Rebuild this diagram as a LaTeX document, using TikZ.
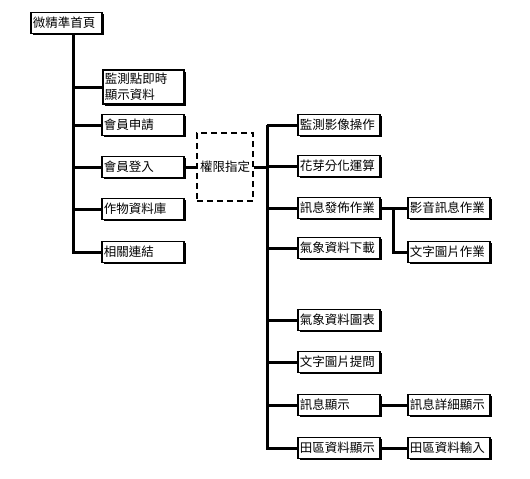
\documentclass[tikz,border=0pt]{standalone}
\usepackage{fontspec}
\setmainfont{Noto Sans CJK TC}
\usepackage{tikz}
\usetikzlibrary{shadows}

\begin{document}
\begin{tikzpicture}[x = 1pt, y = -1pt,
                    line width = 3pt,
                    box/.style = {draw, fill = white, line width = 1.8pt, anchor = west,
                                  drop shadow = {shadow xshift = 1.6pt, shadow yshift = -1.6pt,
                                                 opacity = 1, fill = black},
                                  inner sep = 2pt, minimum height = 21pt, text width = 78pt,
                                  align = left, font = \fontsize{12.5}{16}\selectfont},
                    authbox/.style = {draw, line width = 2.6pt, dash pattern = on 6pt off 4pt,
                                      minimum width = 56pt, minimum height = 68pt, inner sep = 0pt,
                                      font = \fontsize{12.5}{16}\selectfont}]

\useasboundingbox (0,0) rectangle (530,479);

% main page
\node [box, text width = 67pt] (home) at (30,23) {微精準首頁};

% first level
\node [box, text width = 77pt, minimum height = 34pt] (mon) at (102,87) {監測點即時\\顯示資料};
\node [box] (apply) at (101,125) {會員申請};
\node [box] (login) at (101,167) {會員登入};
\node [box] (crop) at (101,209) {作物資料庫};
\node [box] (link) at (101,252) {相關連結};

\node [authbox] (auth) at (225,167) {權限指定};

% member functions
\node [box] (img) at (297,125) {監測影像操作};
\node [box] (bud) at (297,166) {花芽分化運算};
\node [box] (pub) at (297,208) {訊息發佈作業};
\node [box] (wdl) at (297,248) {氣象資料下載};
\node [box] (wchart) at (297,320) {氣象資料圖表};
\node [box] (ask) at (297,362) {文字圖片提問};
\node [box] (msg) at (297,405) {訊息顯示};
\node [box] (field) at (297,448) {田區資料顯示};

% second level
\node [box] (av) at (407,208) {影音訊息作業};
\node [box] (txt) at (407,252) {文字圖片作業};
\node [box] (detail) at (407,405) {訊息詳細顯示};
\node [box] (fin) at (407,448) {田區資料輸入};

\coordinate (lt) at (73,33);
\coordinate (rt) at (267,125);
\coordinate (st) at (393,208);

\draw (lt) |- (mon.west);
\draw (lt) |- (apply.west);
\draw (lt) |- (login.west);
\draw (lt) |- (crop.west);
\draw (lt) |- (link.west);

\draw (login.east) -- (auth.west);
\draw (auth.east) -- (auth.east -| rt);

\draw (rt) |- (img.west);
\draw (rt) |- (bud.west);
\draw (rt) |- (pub.west);
\draw (rt) |- (wdl.west);
\draw (rt) |- (wchart.west);
\draw (rt) |- (ask.west);
\draw (rt) |- (msg.west);
\draw (rt) |- (field.west);

\draw (pub.east) -- (av.west);
\draw (st) |- (txt.west);
\draw (msg.east) -- (detail.west);
\draw (field.east) -- (fin.west);

\end{tikzpicture}
\end{document}
